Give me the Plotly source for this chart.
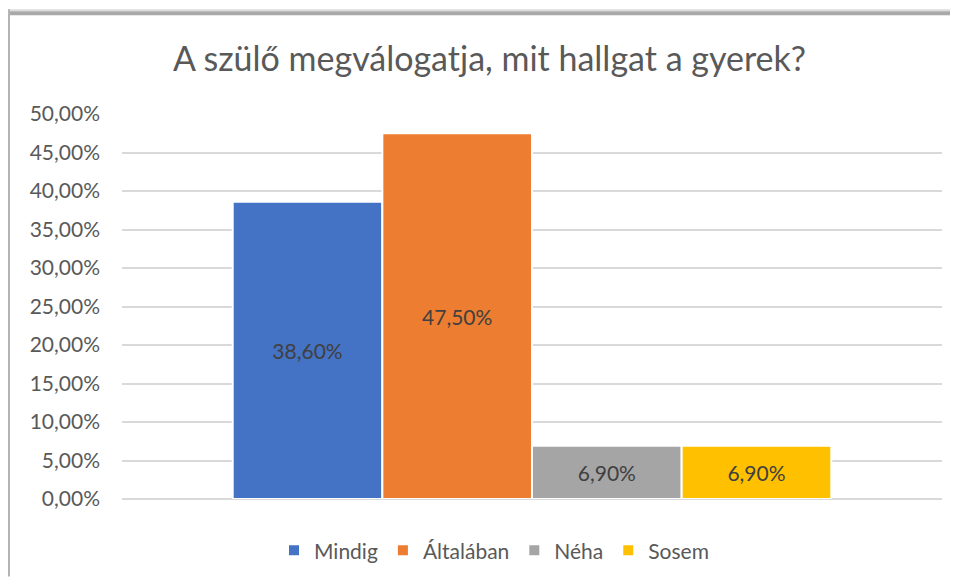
import plotly.graph_objects as go

# data
category = ["A szülő megválogatja"]
series_names = ["Mindig", "Általában", "Néha", "Sosem"]
series_values = [0.386, 0.475, 0.069, 0.069]
series_colors = ["#4472C4", "#ED7D31", "#A5A5A5", "#FFC000"]
y_ticks = [0, 0.05, 0.10, 0.15, 0.20, 0.25, 0.30, 0.35, 0.40, 0.45, 0.50]

# page body has an 8px margin, so the figure is a bit smaller than the window
W, H = 942, 571
ML, MR, MT, MB = 114, 8, 105.5, 78
PW, PH = W - ML - MR, H - MT - MB


def px_x(p):
    return (p - ML) / PW


def px_y(p):
    return (H - MB - p) / PH


fig = go.Figure()
for name, val, col in zip(series_names, series_values, series_colors):
    fig.add_trace(go.Bar(
        x=category, y=[val], name=name,
        marker=dict(color=col, line=dict(color="white", width=2)),
        texttemplate="%{y:.2%}", textposition="inside", insidetextanchor="middle",
        textfont=dict(color="#404040", size=21),
    ))

# screenshot frame (top + left shadow)
frame = [
    (0, 0, W, 2, "#dcdcdc"),
    (0, 2, W, 6, "#a9a9a9"),
    (0, 0, 2, H, "#b4b4b4"),
]
shapes = []
for x0, y0, x1, y1, c in frame:
    shapes.append(dict(type="rect", xref="paper", yref="paper",
                       x0=px_x(x0), x1=px_x(x1), y0=px_y(y1), y1=px_y(y0),
                       fillcolor=c, line=dict(width=0), layer="above"))

fig.update_layout(
    width=W, height=H,
    margin=dict(l=ML, r=MR, t=MT, b=MB),
    paper_bgcolor="white", plot_bgcolor="white",
    separators=", ",
    font=dict(family="Lato, sans-serif", color="#595959", size=21),
    title=dict(text="A szülő megválogatja, mit hallgat a gyerek?",
               x=481.5 / W, xanchor="center", y=1 - 51 / H, yanchor="middle",
               font=dict(size=34, color="#595959")),
    barmode="group", bargap=0.27, bargroupgap=0,
    showlegend=True,
    legend=dict(orientation="h", x=px_x(486), xanchor="center", y=px_y(545), yanchor="middle",
                font=dict(size=21, color="#595959")),
    shapes=shapes,
)
fig.update_xaxes(showticklabels=False, showgrid=False, zeroline=False, showline=False)
fig.update_yaxes(range=[0, 0.5], tickvals=y_ticks, tickformat=".2%",
                 showgrid=True, gridcolor="#d9d9d9", gridwidth=2,
                 zeroline=True, zerolinecolor="#d9d9d9", zerolinewidth=2,
                 showline=False, ticklabelstandoff=21,
                 tickfont=dict(size=21, color="#595959"))

fig.write_html("out.html")
